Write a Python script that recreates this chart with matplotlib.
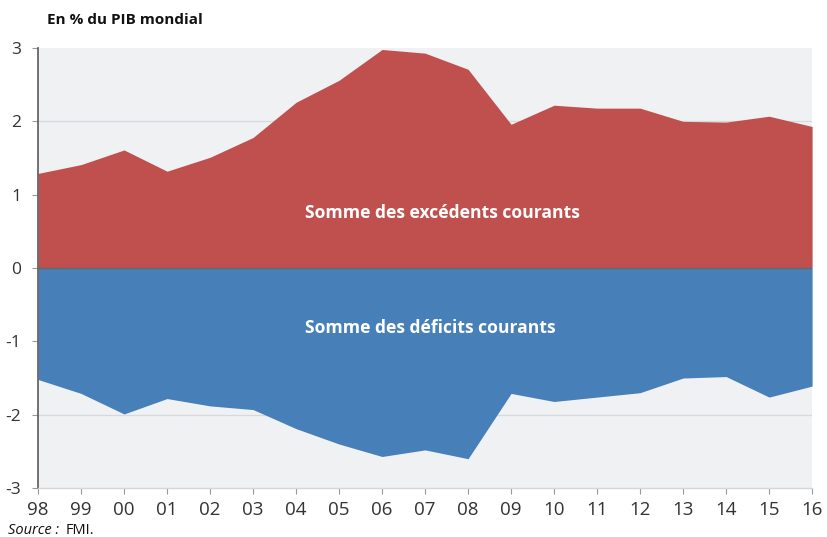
import matplotlib
matplotlib.use("Agg")
import matplotlib.pyplot as plt
import numpy as np

plt.rcParams['font.family'] = ['Open Sans', 'DejaVu Sans']

# Current account balances, % of world GDP
years = ["98", "99", "00", "01", "02", "03", "04", "05", "06", "07",
         "08", "09", "10", "11", "12", "13", "14", "15", "16"]
surpluses = [1.29, 1.41, 1.61, 1.32, 1.51, 1.78, 2.26, 2.56, 2.98, 2.93,
             2.71, 1.96, 2.22, 2.18, 2.18, 2.00, 1.99, 2.07, 1.93]
deficits = [-1.52, -1.71, -1.99, -1.78, -1.88, -1.93, -2.19, -2.40, -2.57, -2.48,
            -2.60, -1.71, -1.82, -1.76, -1.70, -1.50, -1.48, -1.76, -1.61]
y_ticks = [-3, -2, -1, 0, 1, 2, 3]

red = "#c0504e"
blue = "#477fb9"
text_col = "#333333"

fig = plt.figure(figsize=(8.27, 5.37), dpi=100)
ax = fig.add_axes([0.046, 0.0912, 0.936, 0.8194])
ax.set_facecolor("#f0f1f3")

x = np.arange(len(years))
ax.fill_between(x, 0, surpluses, color=red, lw=0, zorder=2)
ax.fill_between(x, 0, deficits, color=blue, lw=0, zorder=2)
ax.axhline(0, color="#666666", lw=1.0, zorder=3)

for v in [1, 2]:
    ax.axhline(v, color="#d8d9dc", lw=0.9, zorder=1)
    ax.axhline(-v, color="#d8d9dc", lw=0.9, zorder=1)

ax.set_xlim(0, len(years) - 1)
ax.set_ylim(-3, 3)
ax.set_xticks(x)
ax.set_xticklabels(years)
ax.set_yticks(y_ticks)
ax.set_yticklabels([str(v) for v in y_ticks])

for s in ["top", "right"]:
    ax.spines[s].set_visible(False)
ax.spines["left"].set_color("#666666")
ax.spines["left"].set_linewidth(1.3)
ax.spines["bottom"].set_color("#d5d6d8")
ax.spines["bottom"].set_linewidth(1.0)

ax.tick_params(axis="x", length=4, width=0.8, color="#999999", labelsize=13.5,
               labelcolor=text_col, pad=5)
ax.tick_params(axis="y", length=4, width=0.8, color="#999999", labelsize=12.5,
               labelcolor=text_col, pad=8)

ax.text(6.21, 0.75, "Somme des excédents courants", color="white", fontsize=12.6,
        fontweight="bold", ha="left", va="center", zorder=4)
ax.text(6.21, -0.82, "Somme des déficits courants", color="white", fontsize=12.6,
        fontweight="bold", ha="left", va="center", zorder=4)

fig.text(0.057, 0.962, "En % du PIB mondial", fontsize=11, fontweight="bold",
         color="#111111", ha="left", va="center")
fig.text(0.010, 0.013, "Source :", fontsize=10.5, style="italic", color="#111111",
         ha="left", va="center")
fig.text(0.079, 0.013, "FMI.", fontsize=10.5, color="#111111", ha="left", va="center")

fig.savefig("out.png", dpi=100)
